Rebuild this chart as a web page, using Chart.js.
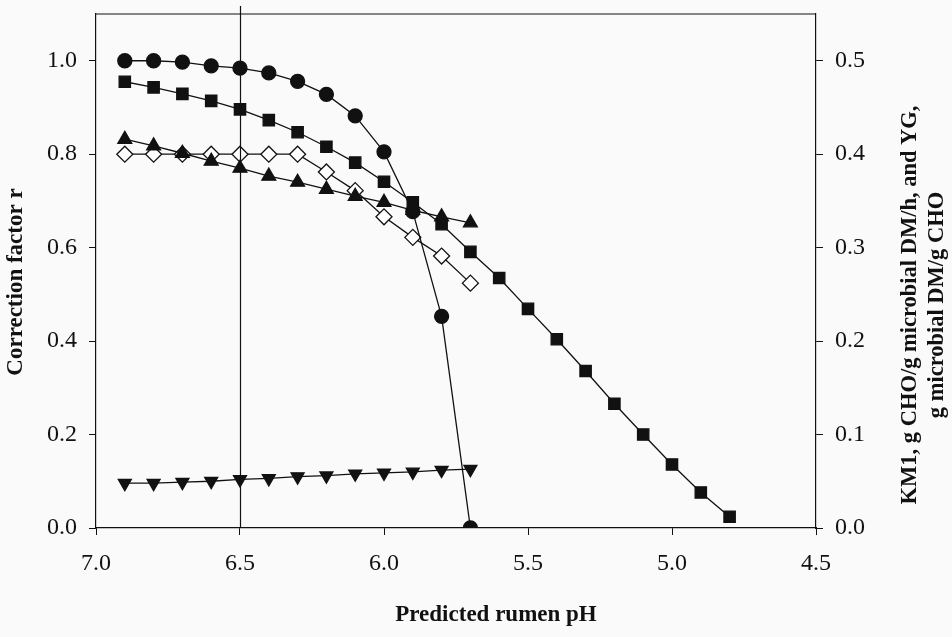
<!DOCTYPE html>
<html>
<head>
<meta charset="utf-8">
<script src="https://cdn.jsdelivr.net/npm/chart.js@4/dist/chart.umd.min.js"></script>
<style>
  html, body { margin: 0; padding: 0; background: #fafafa; }
  #wrap { width: 952px; height: 637px; position: relative; }
</style>
</head>
<body>
<div id="wrap"><canvas id="grafico"></canvas></div>
<script>
// pH values (x axis runs from 7.0 down to 4.5)
const phShort = [6.9, 6.8, 6.7, 6.6, 6.5, 6.4, 6.3, 6.2, 6.1, 6.0, 5.9, 5.8, 5.7];
const phLong = [6.9, 6.8, 6.7, 6.6, 6.5, 6.4, 6.3, 6.2, 6.1, 6.0, 5.9, 5.8, 5.7, 5.6, 5.5, 5.4, 5.3, 5.2, 5.1, 5.0, 4.9, 4.8];

// correction factors, left axis
const circles = [1.0, 1.0, 0.997, 0.989, 0.984, 0.974, 0.956, 0.928, 0.882, 0.805, 0.677, 0.453, 0.0];
const squares = [0.955, 0.943, 0.929, 0.914, 0.896, 0.873, 0.847, 0.816, 0.782, 0.741, 0.697, 0.650, 0.591,
                 0.535, 0.469, 0.404, 0.336, 0.266, 0.200, 0.136, 0.076, 0.024];
const trianglesUp = [0.832, 0.818, 0.802, 0.785, 0.770, 0.753, 0.740, 0.725, 0.710, 0.697, 0.680, 0.666, 0.653];

// YG and KM1, right axis
const diamondsYG = [0.400, 0.400, 0.400, 0.400, 0.400, 0.400, 0.400, 0.381, 0.361, 0.333, 0.311, 0.291, 0.262];
const trianglesKM1 = [0.048, 0.048, 0.049, 0.050, 0.052, 0.053, 0.055, 0.056, 0.058, 0.059, 0.060, 0.062, 0.063];

const xTicks = [7.0, 6.5, 6.0, 5.5, 5.0, 4.5];
const leftTicks = [0.0, 0.2, 0.4, 0.6, 0.8, 1.0];
const rightTicks = [0.0, 0.1, 0.2, 0.3, 0.4, 0.5];

const serif = 'Liberation Serif';
const pares = (xs, ys) => ys.map((y, i) => ({ x: xs[i], y: y }));

function serie(label, xs, ys, eixo, estilo, raio, fundo, rot) {
    return {
        label: label,
        data: pares(xs, ys),
        yAxisID: eixo,
        borderColor: '#111',
        borderWidth: 1.3,
        tension: 0,
        pointStyle: estilo,
        pointRadius: raio,
        pointRotation: rot || 0,
        pointBackgroundColor: fundo,
        pointBorderColor: '#111',
        pointBorderWidth: 1.3
    };
}

// fixed box sizes so the plot area sits where the original does
function ajusta(tam) {
    return s => {
        if (s.isHorizontal()) s.height = tam; else s.width = tam;
        s.paddingTop = 0; s.paddingBottom = 0;
        s.paddingLeft = 0; s.paddingRight = 0;
    };
}

const extras = {
    id: 'extras',
    beforeDraw(chart) {
        const ctx = chart.ctx;
        ctx.save();
        ctx.fillStyle = '#fafafa';
        ctx.fillRect(0, 0, chart.width, chart.height);
        ctx.restore();
    },
    afterDraw(chart) {
        const ctx = chart.ctx;
        const a = chart.chartArea;
        const x = chart.scales.x;
        ctx.save();
        ctx.strokeStyle = '#111';
        ctx.lineWidth = 1.2;
        // top frame
        ctx.beginPath();
        ctx.moveTo(a.left, a.top);
        ctx.lineTo(a.right, a.top);
        ctx.stroke();
        // vertical line at pH 6.5
        const x65 = Math.round(x.getPixelForValue(6.5)) + 0.5;
        ctx.beginPath();
        ctx.moveTo(x65, 6);
        ctx.lineTo(x65, a.bottom);
        ctx.stroke();

        ctx.fillStyle = '#111';
        ctx.font = 'bold 23px "' + serif + '"';
        ctx.textAlign = 'center';
        ctx.textBaseline = 'middle';
        ctx.fillText('Predicted rumen pH', 496, 615);

        ctx.save();
        ctx.translate(16, 282);
        ctx.rotate(-Math.PI / 2);
        ctx.fillText('Correction factor r', 0, 0);
        ctx.restore();

        ctx.save();
        ctx.translate(910, 305);
        ctx.rotate(-Math.PI / 2);
        ctx.font = 'bold 22.5px "' + serif + '"';
        ctx.fillText('KM1, g CHO/g microbial DM/h, and YG,', 0, 0);
        ctx.fillText('g microbial DM/g CHO', 0, 27);
        ctx.restore();
        ctx.restore();
    }
};

const tickFont = { family: serif, size: 24 };

const configGrafico = {
    type: 'line',
    data: {
        datasets: [
            serie('Correction (circles)', phShort, circles, 'y', 'circle', 7, '#111'),
            serie('Correction (squares)', phLong, squares, 'y', 'rect', 8, '#111'),
            serie('Correction (triangles)', phShort, trianglesUp, 'y', 'triangle', 8, '#111'),
            serie('YG', phShort, diamondsYG, 'y1', 'rectRot', 8, '#fff'),
            serie('KM1', phShort, trianglesKM1, 'y1', 'triangle', 7.5, '#111', 180)
        ]
    },
    options: {
        responsive: false,
        animation: false,
        layout: { padding: { top: 14, left: 0, right: 0, bottom: 0 } },
        plugins: {
            legend: { display: false },
            tooltip: { enabled: false }
        },
        scales: {
            x: {
                type: 'linear',
                reverse: true,
                min: 4.5,
                max: 7.0,
                afterBuildTicks: s => { s.ticks = xTicks.map(v => ({ value: v })); },
                afterFit: ajusta(109),
                ticks: {
                    color: '#111',
                    font: tickFont,
                    padding: 14,
                    maxRotation: 0,
                    callback: v => v.toFixed(1)
                },
                grid: { drawOnChartArea: false, tickLength: 7, tickColor: '#111', color: '#111' },
                border: { color: '#111', width: 1.2 }
            },
            y: {
                type: 'linear',
                position: 'left',
                min: 0,
                max: 1.1,
                afterBuildTicks: s => { s.ticks = leftTicks.map(v => ({ value: v })); },
                afterFit: ajusta(96),
                ticks: {
                    color: '#111',
                    font: tickFont,
                    padding: 12,
                    callback: v => v.toFixed(1)
                },
                grid: { drawOnChartArea: false, tickLength: 7, tickColor: '#111', color: '#111' },
                border: { color: '#111', width: 1.2 }
            },
            y1: {
                type: 'linear',
                position: 'right',
                min: 0,
                max: 0.55,
                afterBuildTicks: s => { s.ticks = rightTicks.map(v => ({ value: v })); },
                afterFit: ajusta(136),
                ticks: {
                    color: '#111',
                    font: tickFont,
                    padding: 12,
                    callback: v => v.toFixed(1)
                },
                grid: { drawOnChartArea: false, tickLength: 7, tickColor: '#111', color: '#111' },
                border: { color: '#111', width: 1.2 }
            }
        }
    },
    plugins: [extras]
};

const canvas = document.getElementById('grafico');
canvas.width = 952;
canvas.height = 637;
const grafico = new Chart(canvas, configGrafico);
</script>
</body>
</html>
